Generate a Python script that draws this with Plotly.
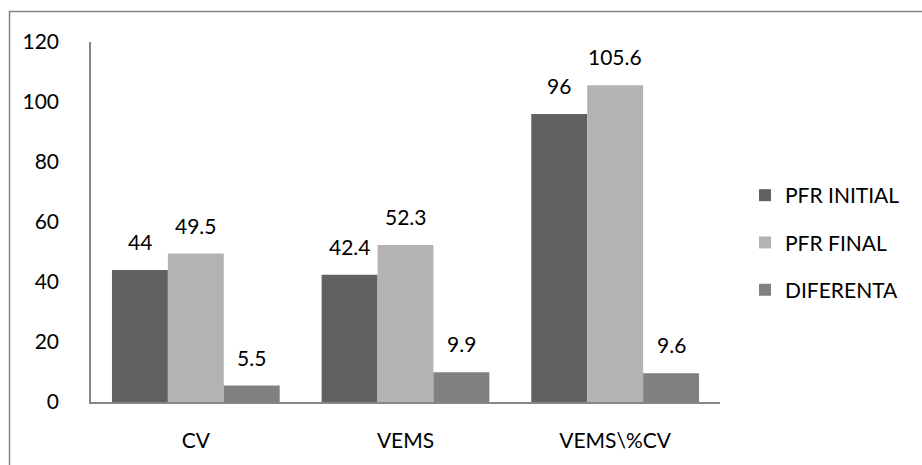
import plotly.graph_objects as go

categories = ["CV", "VEMS", "VEMS\\%CV"]
series_names = ["PFR INITIAL", "PFR FINAL", "DIFERENTA"]
pfr_initial = [44, 42.4, 96]
pfr_final = [49.5, 52.3, 105.6]
diferenta = [5.5, 9.9, 9.6]
y_ticks = [0, 20, 40, 60, 80, 100, 120]

series_values = [pfr_initial, pfr_final, diferenta]
colors = ["#616161", "#b3b3b3", "#808080"]

W, H = 922, 465
L, R, T, B = 91, 202, 42, 63
pw, ph = W - L - R, H - T - B
FONT = "Lato"
FS = 21

fig = go.Figure()
for name, vals, col in zip(series_names, series_values, colors):
    fig.add_trace(go.Bar(x=categories, y=vals, name=name, marker_color=col,
                         marker_line_width=0, legendgroup=name))

# value labels above each bar
bargap = 0.2
bw = (1 - bargap) / len(series_names)
for si, vals in enumerate(series_values):
    off = (si - 1) * bw
    for ci, v in enumerate(vals):
        fig.add_annotation(x=ci + off, y=v, xref="x", yref="y", text=f"{v:g}",
                           showarrow=False, yanchor="bottom", yshift=14,
                           font=dict(family=FONT, size=FS, color="#000000"))

# chart-area frame
def px_to_paper_x(px):
    return (px - L) / pw

def px_to_paper_y(py):
    return (H - B - py) / ph

fig.add_shape(type="rect", xref="paper", yref="paper",
              x0=px_to_paper_x(9.5), x1=px_to_paper_x(930),
              y0=px_to_paper_y(475), y1=px_to_paper_y(11.5),
              line=dict(color="#868686", width=1.5), fillcolor="rgba(0,0,0,0)",
              layer="below")

fig.update_layout(
    width=W, height=H,
    margin=dict(l=L, r=R, t=T, b=B, autoexpand=False),
    paper_bgcolor="white", plot_bgcolor="white",
    barmode="group", bargap=bargap, bargroupgap=0,
    font=dict(family=FONT, size=FS, color="#000000"),
    showlegend=True,
    legend=dict(x=px_to_paper_x(745), y=px_to_paper_y(175), xanchor="left", yanchor="top",
                font=dict(family=FONT, size=FS, color="#000000"),
                itemwidth=30, tracegroupgap=17, bgcolor="rgba(0,0,0,0)"),
    xaxis=dict(showgrid=False, showline=True, linecolor="#868686", linewidth=1.5,
               ticks="", ticklabelstandoff=19, zeroline=False,
               tickfont=dict(family=FONT, size=FS)),
    yaxis=dict(range=[0, 120], tickvals=y_ticks, showgrid=False, showline=True,
               linecolor="#868686", linewidth=1.5, ticks="", zeroline=False,
               ticklabelstandoff=26, tickfont=dict(family=FONT, size=FS)),
)

fig.write_html("out.html")
